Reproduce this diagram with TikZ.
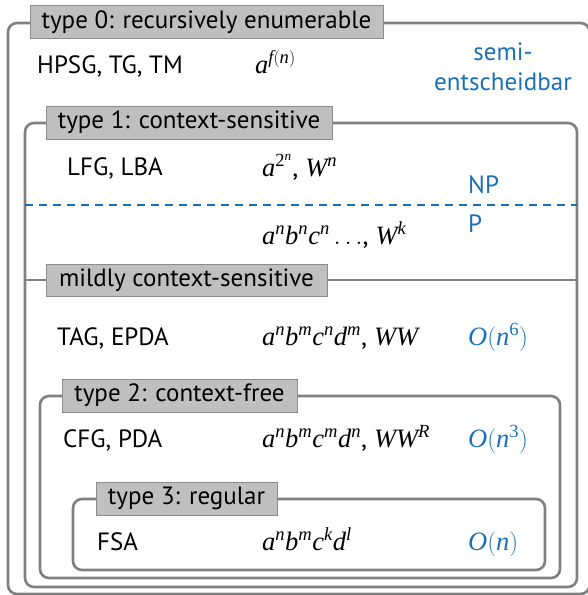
\documentclass[tikz,border=0pt]{standalone}
\usepackage{mathspec}
\setmainfont{PT Sans}
\setmathsfont(Digits,Latin){Liberation Serif}
\setmathrm{PT Sans}
\definecolor{framegray}{HTML}{808080}
\definecolor{titlefill}{HTML}{BFBFBF}
\definecolor{titleborder}{HTML}{8C8C8C}
\definecolor{hlblue}{HTML}{1A70B8}
\tikzset{
  frame/.style={draw=framegray, line width=2.6pt, rounded corners=9pt},
  titlebox/.style={draw=titleborder, fill=titlefill, line width=0.8pt, inner sep=0pt, minimum height=33pt, text=black},
  lbl/.style={anchor=base west, inner sep=0pt},
  mlbl/.style={anchor=base west, inner sep=0pt, font=\fontsize{26.5}{31}\selectfont},
  blbl/.style={anchor=base west, inner sep=0pt, text=hlblue},
  npline/.style={draw=hlblue, line width=2.6pt, dash pattern=on 8pt off 6pt}
}
\begin{document}
\begin{tikzpicture}[x=1pt,y=-1pt,font=\fontsize{25}{30}\selectfont]
\useasboundingbox (0,0) rectangle (588,595);
% frames
\draw[frame] (8,23) rectangle (589.5,594);
\draw[frame] (25,123) rectangle (577,587);
\draw[frame] (40,396) rectangle (560,578);
\draw[frame] (73,499) rectangle (545,570);
% dividers
\coordinate (mL) at (25,280);
\coordinate (mR) at (577,280);
\draw[draw=framegray, line width=2.6pt] (mL) -- (mR);
\coordinate (dL) at (25,205);
\coordinate (dR) at (577,205);
\draw[npline] (dL) -- (dR);
% titles
\node[titlebox, minimum width=353pt] (t0) at (206.5,22) {type 0: recursively enumerable};
\node[titlebox, minimum width=286pt] (t1) at (189,122.5) {type 1: context-sensitive};
\node[titlebox, minimum width=281pt, minimum height=32pt] (tm) at (186.5,280) {mildly context-sensitive};
\node[titlebox, minimum width=235pt] (t2) at (179.5,395.5) {type 2: context-free};
\node[titlebox, minimum width=181pt] (t3) at (186.5,498.5) {type 3: regular};
% row type 0
\node[lbl] (g0) at (37,73) {HPSG, TG, TM};
\node[mlbl] (m0) at (255,73) {$a^{f(n)}$};
\node[anchor=base, inner sep=0pt, text=hlblue] (s0) at (503,60) {semi-};
\node[anchor=base, inner sep=0pt, text=hlblue] (s1) at (503,90) {entscheidbar};
% type 1
\node[lbl] (g1) at (67,175) {LFG, LBA};
\node[mlbl] (m1) at (262,176) {$a^{2^n}$, $W^n$};
\node[blbl] (np) at (468,193) {NP};
\node[blbl] (p) at (468,232) {P};
\node[mlbl] (m1b) at (262,244) {$a^nb^nc^n\ldots$, $W^k$};
% mildly
\node[lbl] (gm) at (57,345) {TAG, EPDA};
\node[mlbl] (mm) at (262,345) {$a^nb^mc^nd^m$, $WW$};
\node[blbl, mlbl, text=hlblue] (om) at (468,345) {$O(n^6)$};
% type 2
\node[lbl] (g2) at (63,447) {CFG, PDA};
\node[mlbl] (m2) at (262,447) {$a^nb^mc^md^n$, $WW^R$};
\node[blbl, mlbl, text=hlblue] (o2) at (468,447) {$O(n^3)$};
% type 3
\node[lbl] (g3) at (97,550) {FSA};
\node[mlbl] (m3) at (262,550) {$a^nb^mc^kd^l$};
\node[blbl, mlbl, text=hlblue] (o3) at (468,550) {$O(n)$};
\end{tikzpicture}
\end{document}
